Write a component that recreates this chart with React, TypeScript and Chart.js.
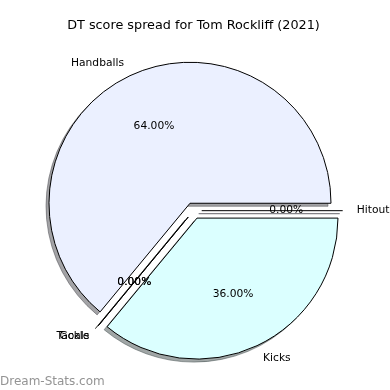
import React, { useEffect, useRef } from "react";
import { Chart, registerables } from "chart.js";

Chart.register(...registerables);

const TITLE = "DT score spread for Tom Rockliff (2021)";
const WATERMARK = "Dream-Stats.com";

// Slices listed clockwise from 3 o'clock (Chart.js draws clockwise)
const categories = ["Hitout", "Kicks", "Goals", "Tackle", "Handballs"];
const values = [0, 36, 0, 0, 64];
const sliceColors = ["#e6e6fa", "#dbffff", "#fff0f0", "#f0fff0", "#ebf0ff"];

const RADIUS = 141;
const EXPLODE = 8.2;
const SHADOW_DX = -3;
const SHADOW_DY = 3;
const FONT = '"DejaVu Sans", sans-serif';
const LABEL_SIZE = 10.7;

function hexToRgb(h: string): number[] {
  const s = h.replace("#", "");
  return [0, 2, 4].map((i) => parseInt(s.slice(i, i + 2), 16));
}

const total = values.reduce((a, b) => a + b, 0);

const mplPie = {
  id: "mplPie",
  beforeDatasetsDraw(chart: any) {
    const ctx = chart.ctx;
    const meta = chart.getDatasetMeta(0);
    ctx.save();
    meta.data.forEach((arc: any, i: number) => {
      const { x, y, startAngle, endAngle, outerRadius } = arc;
      const mid = (startAngle + endAngle) / 2;
      const cx = x + Math.cos(mid) * EXPLODE + SHADOW_DX;
      const cy = y + Math.sin(mid) * EXPLODE + SHADOW_DY;
      const [r, g, b] = hexToRgb(sliceColors[i]);
      const col = `rgba(${0.3 * r},${0.3 * g},${0.3 * b},0.5)`;
      ctx.beginPath();
      ctx.moveTo(cx, cy);
      ctx.arc(cx, cy, outerRadius, startAngle, endAngle);
      ctx.closePath();
      ctx.fillStyle = col;
      ctx.strokeStyle = col;
      ctx.lineWidth = 1;
      ctx.lineJoin = "miter";
      if (endAngle > startAngle) ctx.fill();
      ctx.stroke();
    });
    ctx.restore();
  },
  beforeDatasetDraw(chart: any, args: any) {
    const ctx = chart.ctx;
    const meta = args.meta;
    meta.data.forEach((arc: any) => {
      const { x, y, startAngle, endAngle, outerRadius, circumference } = arc;
      const mid = (startAngle + endAngle) / 2;
      const dx = Math.cos(mid) * EXPLODE;
      const dy = Math.sin(mid) * EXPLODE;
      if (!circumference) {
        ctx.save();
        ctx.beginPath();
        ctx.moveTo(x + dx, y + dy);
        ctx.lineTo(x + dx + Math.cos(startAngle) * outerRadius, y + dy + Math.sin(startAngle) * outerRadius);
        ctx.strokeStyle = "#000";
        ctx.lineWidth = 1;
        ctx.stroke();
        ctx.restore();
      } else {
        ctx.save();
        ctx.translate(dx, dy);
        arc.draw(ctx, chart.chartArea);
        ctx.restore();
      }
    });
    return false;
  },
  afterDatasetsDraw(chart: any) {
    const ctx = chart.ctx;
    const meta = chart.getDatasetMeta(0);
    ctx.save();
    ctx.fillStyle = "#000";
    ctx.font = `${LABEL_SIZE}px ${FONT}`;
    ctx.textBaseline = "middle";
    meta.data.forEach((arc: any, i: number) => {
      const { x, y, startAngle, endAngle, outerRadius } = arc;
      const mid = (startAngle + endAngle) / 2;
      const ex = x + Math.cos(mid) * EXPLODE;
      const ey = y + Math.sin(mid) * EXPLODE;
      const lx = ex + 1.1 * outerRadius * Math.cos(mid);
      const ly = ey + 1.1 * outerRadius * Math.sin(mid);
      ctx.textAlign = lx > x ? "left" : "right";
      ctx.fillText(categories[i], lx, ly);
      const px = ex + 0.6 * outerRadius * Math.cos(mid);
      const py = ey + 0.6 * outerRadius * Math.sin(mid);
      ctx.textAlign = "center";
      ctx.fillText(((values[i] / total) * 100).toFixed(2) + "%", px, py);
    });
    ctx.restore();
  },
  afterDraw(chart: any) {
    const ctx = chart.ctx;
    ctx.save();
    ctx.font = `12px ${FONT}`;
    ctx.fillStyle = "rgba(120,120,120,0.8)";
    ctx.textAlign = "left";
    ctx.textBaseline = "alphabetic";
    ctx.fillText(WATERMARK, 0, 385);
    ctx.restore();
  },
};

export default function App() {
  const ref = useRef<HTMLCanvasElement | null>(null);
  useEffect(() => {
    document.body.style.margin = "0";
    if (!ref.current) return;
    const chart = new Chart(ref.current, {
      type: "pie",
      data: {
        labels: categories,
        datasets: [
          {
            data: values,
            backgroundColor: sliceColors,
            borderColor: "#000",
            borderWidth: 1,
            borderJoinStyle: "miter",
            radius: RADIUS,
            offset: 0,
            hoverOffset: 0,
          } as any,
        ],
      },
      options: {
        animation: false,
        responsive: false,
        devicePixelRatio: 1,
        events: [],
        rotation: 90,
        layout: { padding: { left: 0, right: 3, top: 0, bottom: 1.5 } },
        plugins: {
          legend: { display: false },
          tooltip: { enabled: false },
          title: {
            display: true,
            text: TITLE,
            color: "#000",
            font: { family: FONT, size: 12.8, weight: "normal" },
            padding: { top: 17.5, bottom: 0 },
          },
        },
      } as any,
      plugins: [mplPie],
    });
    return () => chart.destroy();
  }, []);
  return <canvas ref={ref} width={390} height={390} style={{ display: "block" }} />;
}
